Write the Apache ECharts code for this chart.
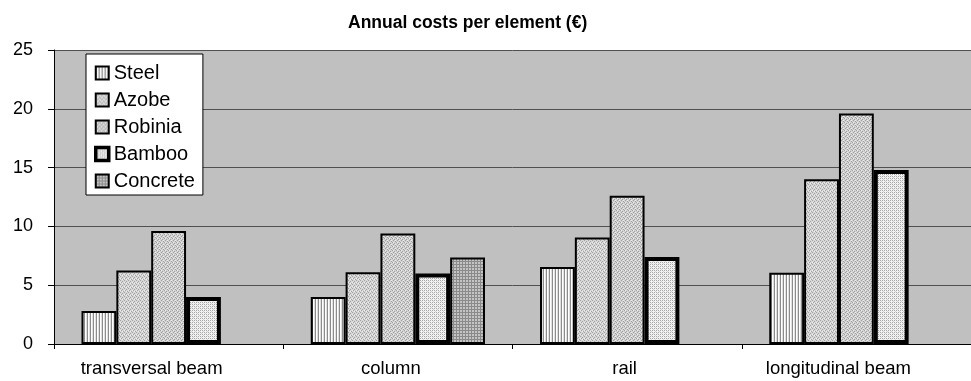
<!DOCTYPE html>
<html>
<head>
<meta charset="utf-8">
<script src="https://cdn.jsdelivr.net/npm/echarts@6/dist/echarts.min.js"></script>
<style>
  html, body { margin: 0; padding: 0; background: #ffffff; }
  #chart { width: 971px; height: 381px; }
</style>
</head>
<body>
<div id="chart"></div>
<script>
// Annual costs per structural element, by material (€)
const categories = ['transversal beam', 'column', 'rail', 'longitudinal beam'];
const steel    = [2.8, 4.0, 6.55, 6.05];
const azobe    = [6.25, 6.1, 9.05, 14.0];
const robinia  = [9.6, 9.4, 12.6, 19.6];
const bamboo   = [4.0, 6.0, 7.4, 14.8];
const concrete = [null, 7.35, null, null];
const yTicks   = [0, 5, 10, 15, 20, 25];

// Small monochrome fill textures, built pixel by pixel on a canvas
function makePattern(size, painter) {
  const c = document.createElement('canvas');
  c.width = size; c.height = size;
  const ctx = c.getContext('2d');
  painter(ctx, size);
  return { image: c, repeat: 'repeat' };
}
function px(ctx, x, y, col) { ctx.fillStyle = col; ctx.fillRect(x, y, 1, 1); }

const steelFill = makePattern(3, (ctx, s) => {
  ctx.fillStyle = '#ffffff'; ctx.fillRect(0, 0, s, s);
  ctx.fillStyle = '#8c8c8c'; ctx.fillRect(0, 0, 1, s);
  ctx.fillStyle = '#e0e0e0'; ctx.fillRect(2, 0, 1, s);
});
const azobeFill = makePattern(4, (ctx, s) => {
  ctx.fillStyle = '#d6d6d6'; ctx.fillRect(0, 0, s, s);
  px(ctx, 0, 0, '#a4a4a4'); px(ctx, 2, 1, '#a4a4a4'); px(ctx, 1, 2, '#a4a4a4'); px(ctx, 3, 3, '#a4a4a4');
  px(ctx, 2, 3, '#eeeeee'); px(ctx, 0, 2, '#eeeeee');
});
const robiniaFill = makePattern(4, (ctx, s) => {
  ctx.fillStyle = '#d2d2d2'; ctx.fillRect(0, 0, s, s);
  px(ctx, 1, 0, '#a0a0a0'); px(ctx, 3, 1, '#a0a0a0'); px(ctx, 0, 2, '#a0a0a0'); px(ctx, 2, 3, '#a0a0a0');
  px(ctx, 3, 0, '#ececec'); px(ctx, 1, 2, '#ececec');
});
const bambooFill = makePattern(4, (ctx, s) => {
  ctx.fillStyle = '#f2f2f2'; ctx.fillRect(0, 0, s, s);
  px(ctx, 0, 0, '#a6a6a6'); px(ctx, 2, 2, '#a6a6a6');
  px(ctx, 2, 0, '#a6a6a6'); px(ctx, 0, 2, '#a6a6a6');
  px(ctx, 1, 1, '#d4d4d4'); px(ctx, 3, 3, '#d4d4d4');
});
const concreteFill = makePattern(3, (ctx, s) => {
  ctx.fillStyle = '#c4c4c4'; ctx.fillRect(0, 0, s, s);
  ctx.fillStyle = '#8a8a8a'; ctx.fillRect(0, 0, s, 1); ctx.fillRect(0, 0, 1, s);
});

function barSeries(name, data, fill, border) {
  return {
    name: name,
    type: 'bar',
    data: data,
    barGap: '0%',
    barCategoryGap: '24%',
    itemStyle: { color: fill, borderColor: '#000000', borderWidth: border },
    emphasis: { disabled: true }
  };
}

// Category labels sit slightly left of their band centres
const labelShift = [34, 14, 5, 36];
const xData = categories.map((c, i) => ({ value: c, textStyle: { padding: [0, labelShift[i], 0, 0] } }));

const font = 'Liberation Sans, Arial, sans-serif';
const chart = echarts.init(document.getElementById('chart'), null, { renderer: 'canvas' });
chart.setOption({
  animation: false,
  backgroundColor: '#ffffff',
  textStyle: { fontFamily: font },
  title: {
    text: 'Annual costs per element (€)',
    left: 343,
    top: 9,
    textStyle: { fontSize: 17.5, fontWeight: 'bold', color: '#000000', fontFamily: font }
  },
  legend: {
    orient: 'vertical',
    left: 86,
    top: 54,
    padding: [9, 8, 4, 8],
    itemWidth: 13,
    itemHeight: 13,
    itemGap: 7,
    icon: 'rect',
    backgroundColor: '#ffffff',
    borderColor: '#000000',
    borderWidth: 1,
    textStyle: { fontSize: 20, lineHeight: 20, color: '#000000', fontFamily: font },
    data: [
      { name: 'Steel' },
      { name: 'Azobe' },
      { name: 'Robinia' },
      { name: 'Bamboo', itemStyle: { borderWidth: 3.5 } },
      { name: 'Concrete' }
    ]
  },
  grid: {
    left: 54,
    top: 50,
    width: 925,
    bottom: 37,
    show: true,
    backgroundColor: '#c0c0c0',
    borderWidth: 0,
    containLabel: false
  },
  xAxis: {
    type: 'category',
    data: xData,
    boundaryGap: true,
    axisLine: { show: true, lineStyle: { color: '#000000', width: 1 } },
    axisTick: { show: true, length: 5, lineStyle: { color: '#000000' } },
    axisLabel: { fontSize: 18.5, color: '#000000', margin: 15 },
    splitLine: { show: false }
  },
  yAxis: {
    type: 'value',
    min: yTicks[0],
    max: yTicks[yTicks.length - 1],
    interval: yTicks[1] - yTicks[0],
    axisLine: { show: true, lineStyle: { color: '#000000', width: 1 } },
    axisTick: { show: true, length: 6, lineStyle: { color: '#000000' } },
    axisLabel: { fontSize: 18, color: '#000000', margin: 21 },
    splitLine: { show: true, lineStyle: { color: '#505050', width: 1 } }
  },
  series: [
    barSeries('Steel', steel, steelFill, 2),
    barSeries('Azobe', azobe, azobeFill, 2),
    barSeries('Robinia', robinia, robiniaFill, 2),
    barSeries('Bamboo', bamboo, bambooFill, 4),
    barSeries('Concrete', concrete, concreteFill, 2)
  ]
});
</script>
</body>
</html>
